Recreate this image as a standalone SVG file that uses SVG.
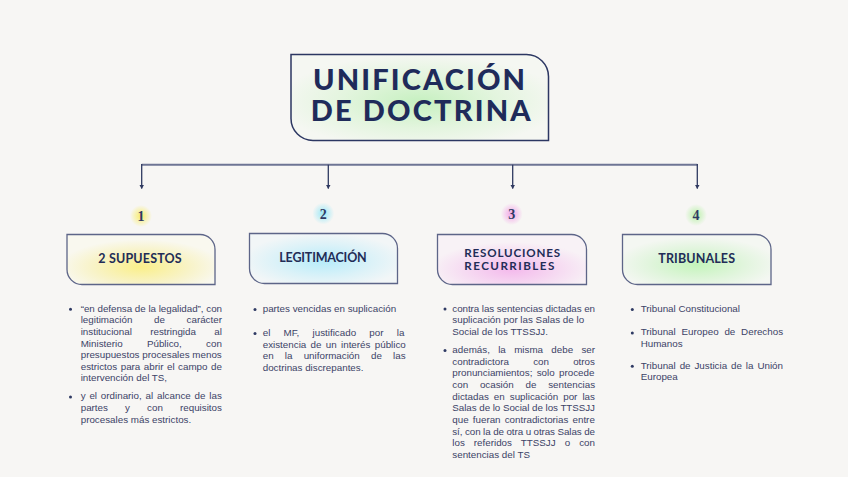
<svg xmlns="http://www.w3.org/2000/svg" width="848" height="477" viewBox="0 0 848 477">
<defs>
<style>
.bg{fill:#f7f6f4}
.box{stroke:#5d6588;stroke-width:1.3}
.ttl{stroke:#2c3762;stroke-width:1.5}
.tt{font-family:"Lato","Liberation Sans",sans-serif;font-weight:900;font-size:29px;fill:#1f2b5a}
.lbl{font-family:"Lato","Liberation Sans",sans-serif;font-weight:700;font-size:12.5px;fill:#222c57}
.lbl2{font-size:11.6px}
.num{font-family:"Liberation Serif","DejaVu Serif",serif;font-weight:700;font-size:14px;fill:#2f3a63;text-anchor:middle}
.b{font-family:"Liberation Sans",Arial,sans-serif;font-size:9.8px;fill:#3c4367}
.dot{fill:#2f3a63}
.hl{stroke:#6e7594;stroke-width:2;fill:none}
.vl{stroke:#2f3960;stroke-width:1.3;fill:none}
</style>
<marker id="ar" markerUnits="userSpaceOnUse" markerWidth="6" markerHeight="5" refX="3" refY="4" viewBox="0 0 6 5">
<path d="M0.5,0 L5.5,0 L3,4.5 Z" fill="#2f3960"/>
</marker>
<radialGradient id="gT" cx="0.5" cy="0.55" r="0.55">
<stop offset="0" stop-color="#c6f0c0"/>
<stop offset="0.55" stop-color="#e3f5de"/>
<stop offset="1" stop-color="#f5f7f2"/>
</radialGradient>
<radialGradient id="g1" cx="0.5" cy="0.65" r="0.55">
<stop offset="0" stop-color="#faef8a"/>
<stop offset="0.6" stop-color="#f8f3c8"/>
<stop offset="1" stop-color="#f9f8ef"/>
</radialGradient>
<radialGradient id="g2" cx="0.5" cy="0.55" r="0.55">
<stop offset="0" stop-color="#b6ecfa"/>
<stop offset="0.6" stop-color="#dcf2f8"/>
<stop offset="1" stop-color="#f2f6f7"/>
</radialGradient>
<radialGradient id="g3" cx="0.5" cy="0.7" r="0.55">
<stop offset="0" stop-color="#f4b9ec"/>
<stop offset="0.6" stop-color="#f6dcf2"/>
<stop offset="1" stop-color="#f8f2f6"/>
</radialGradient>
<radialGradient id="g4" cx="0.5" cy="0.6" r="0.55">
<stop offset="0" stop-color="#c4f4bb"/>
<stop offset="0.6" stop-color="#e2f5de"/>
<stop offset="1" stop-color="#f4f7f2"/>
</radialGradient>
<radialGradient id="n1"><stop offset="0" stop-color="#f8ec5c" stop-opacity="0.9"/><stop offset="1" stop-color="#f8ec5c" stop-opacity="0"/></radialGradient>
<radialGradient id="n2"><stop offset="0" stop-color="#8fe6f7" stop-opacity="0.9"/><stop offset="1" stop-color="#8fe6f7" stop-opacity="0"/></radialGradient>
<radialGradient id="n3"><stop offset="0" stop-color="#f29be6" stop-opacity="0.9"/><stop offset="1" stop-color="#f29be6" stop-opacity="0"/></radialGradient>
<radialGradient id="n4"><stop offset="0" stop-color="#b2f0a0" stop-opacity="0.9"/><stop offset="1" stop-color="#b2f0a0" stop-opacity="0"/></radialGradient>
</defs>
<rect class="bg" x="0" y="0" width="848" height="477"/>

<g id="connectors">
<path class="hl" d="M141.7,164.7 H697.3"/>
<path class="vl" d="M141.7,164 V188.5" marker-end="url(#ar)"/>
<path class="vl" d="M328.3,164.7 V188.5" marker-end="url(#ar)"/>
<path class="vl" d="M512.7,164.7 V188.5" marker-end="url(#ar)"/>
<path class="vl" d="M697.3,164 V188.5" marker-end="url(#ar)"/>
</g>

<g id="title">
<path d="M291,54.5 H526.5 A22,22 0 0 1 548.5,76.5 V140.5 H313 A22,22 0 0 1 291,118.5 Z" fill="url(#gT)" class="ttl"/>
<text class="tt" x="313" y="90" textLength="212" lengthAdjust="spacing">UNIFICACIÓN</text>
<text class="tt" x="310.7" y="120.7" textLength="220" lengthAdjust="spacing">DE DOCTRINA</text>
</g>

<g id="node1">
<circle cx="141" cy="216" r="11" fill="url(#n1)"/>
<text class="num" x="141" y="221">1</text>
<path class="box" d="M67,234.5 H200 A15,15 0 0 1 215,249.5 V284.5 H82 A15,15 0 0 1 67,269.5 Z" fill="url(#g1)"/>
<text class="lbl" x="98.3" y="263.3" textLength="83.4" lengthAdjust="spacing">2 SUPUESTOS</text>
<g id="text1">
<circle class="dot" cx="70.5" cy="309.3" r="1.5"/>
<text class="b" x="80.7" y="311.7" textLength="141.3" lengthAdjust="spacing">“en defensa de la legalidad”, con</text>
<text class="b" x="80.7" y="323.3" word-spacing="18.9">legitimación de carácter</text>
<text class="b" x="80.7" y="334.9" word-spacing="15.6">institucional restringida al</text>
<text class="b" x="80.7" y="346.5" word-spacing="21.6">Ministerio Público, con</text>
<text class="b" x="80.7" y="358.1">presupuestos procesales menos</text>
<text class="b" x="80.7" y="369.7" word-spacing="0.8">estrictos para abrir el campo de</text>
<text class="b" x="80.7" y="381.3">intervención del TS,</text>
<circle class="dot" cx="70.5" cy="397" r="1.5"/>
<text class="b" x="80.7" y="399.4" word-spacing="1.1">y el ordinario, al alcance de las</text>
<text class="b" x="80.7" y="411" word-spacing="14.4">partes y con requisitos</text>
<text class="b" x="80.7" y="422.6">procesales más estrictos.</text>
</g>
</g>

<g id="node2">
<circle cx="323.3" cy="213.5" r="11" fill="url(#n2)"/>
<text class="num" x="323.3" y="218.5">2</text>
<path class="box" d="M249.5,233.5 H382.5 A15,15 0 0 1 397.5,248.5 V283.5 H264.5 A15,15 0 0 1 249.5,268.5 Z" fill="url(#g2)"/>
<text class="lbl" x="279.3" y="261.7" textLength="87.4" lengthAdjust="spacing">LEGITIMACIÓN</text>
<g id="text2">
<circle class="dot" cx="255" cy="309.6" r="1.5"/>
<text class="b" x="262.7" y="312">partes vencidas en suplicación</text>
<circle class="dot" cx="255" cy="333.6" r="1.5"/>
<text class="b" x="262.7" y="336" word-spacing="10.5">el MF, justificado por la</text>
<text class="b" x="262.7" y="347.6" word-spacing="1.6">existencia de un interés público</text>
<text class="b" x="262.7" y="359.2" word-spacing="8.5">en la uniformación de las</text>
<text class="b" x="262.7" y="370.8">doctrinas discrepantes.</text>
</g>
</g>

<g id="node3">
<circle cx="511.7" cy="214" r="11" fill="url(#n3)"/>
<text class="num" x="511.7" y="219">3</text>
<path class="box" d="M437.5,234.5 H571.5 A15,15 0 0 1 586.5,249.5 V284.5 H452.5 A15,15 0 0 1 437.5,269.5 Z" fill="url(#g3)"/>
<text class="lbl lbl2" x="464.3" y="256.7" textLength="95.7" lengthAdjust="spacing">RESOLUCIONES</text>
<text class="lbl lbl2" x="464.3" y="269.5" textLength="90" lengthAdjust="spacing">RECURRIBLES</text>
<g id="text3">
<circle class="dot" cx="445" cy="309.1" r="1.5"/>
<text class="b" x="452.3" y="311.5" textLength="142.7" lengthAdjust="spacing">contra las sentencias dictadas en</text>
<text class="b" x="452.3" y="323.1">suplicación por las Salas de lo</text>
<text class="b" x="452.3" y="334.8">Social de los TTSSJJ.</text>
<circle class="dot" cx="445" cy="350.6" r="1.5"/>
<text class="b" x="452.3" y="353" word-spacing="5.6">además, la misma debe ser</text>
<text class="b" x="452.3" y="364.6" word-spacing="21.5">contradictora con otros</text>
<text class="b" x="452.3" y="376.3" word-spacing="1.6">pronunciamientos; solo procede</text>
<text class="b" x="452.3" y="387.9" word-spacing="9.1">con ocasión de sentencias</text>
<text class="b" x="452.3" y="399.6" word-spacing="2.3">dictadas en suplicación por las</text>
<text class="b" x="452.3" y="411.2" textLength="142.7" lengthAdjust="spacing">Salas de lo Social de los TTSSJJ</text>
<text class="b" x="452.3" y="422.9" word-spacing="1.4">que fueran contradictorias entre</text>
<text class="b" x="452.3" y="434.5" textLength="142.7" lengthAdjust="spacing">sí, con la de otra u otras Salas de</text>
<text class="b" x="452.3" y="446.2" word-spacing="6.3">los referidos TTSSJJ o con</text>
<text class="b" x="452.3" y="457.8">sentencias del TS</text>
</g>
</g>

<g id="node4">
<circle cx="696" cy="215" r="11" fill="url(#n4)"/>
<text class="num" x="696" y="220">4</text>
<path class="box" d="M622.5,234.5 H756 A15,15 0 0 1 771,249.5 V284.5 H637.5 A15,15 0 0 1 622.5,269.5 Z" fill="url(#g4)"/>
<text class="lbl" x="658.3" y="263.3" textLength="76.7" lengthAdjust="spacing">TRIBUNALES</text>
<g id="text4">
<circle class="dot" cx="632.3" cy="309.6" r="1.5"/>
<text class="b" x="640.7" y="312">Tribunal Constitucional</text>
<circle class="dot" cx="632.3" cy="332.9" r="1.5"/>
<text class="b" x="640.7" y="335.3" word-spacing="3.1">Tribunal Europeo de Derechos</text>
<text class="b" x="640.7" y="347">Humanos</text>
<circle class="dot" cx="632.3" cy="366.3" r="1.5"/>
<text class="b" x="640.7" y="368.7" word-spacing="1.2">Tribunal de Justicia de la Unión</text>
<text class="b" x="640.7" y="380.3">Europea</text>
</g>
</g>
</svg>
